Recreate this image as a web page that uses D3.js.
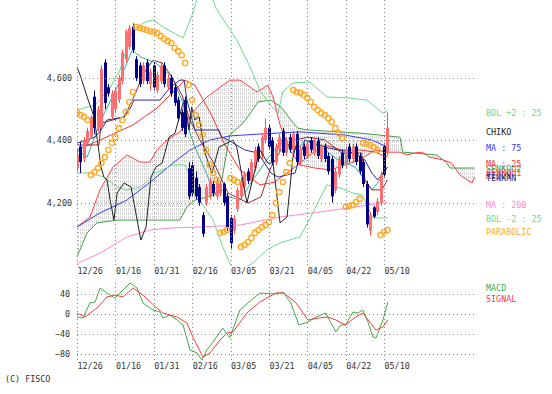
<!DOCTYPE html>
<html>
<head>
<meta charset="utf-8">
<style>
    body { margin: 0; background: #fff; }
    svg text { font-family: 'DejaVu Sans Mono', monospace; font-size: 8.4px; }
</style>
</head>
<body>
<svg width="552" height="394"></svg>
<script src="https://cdn.jsdelivr.net/npm/d3@7"></script>
<script>
    // day index of each date label (11 trading days apart)
    var dateIdx = [0, 11, 22, 33, 44, 55, 66, 77, 88];
    var dateLabels = ["12/26", "01/16", "01/31", "02/16", "03/05", "03/21", "04/05", "04/22", "05/10"];
    var priceTicks = [4200, 4400, 4600];
    var macdTicks = [40, 0, -40, -80];

    // daily candles, index 0 = 12/26
    var opens = [4310,4380,4340,4390,4410,4540,4440,4440,4650,4570,4475,4500,4530,4590,4660,4700,4765,4660,4640,4590,
                 4650,4580,4640,4560,4590,4640,4570,4600,4570,4530,4490,4530,4310,4320,4280,4250,4160,4200,4220,4260,
                 4220,4230,4260,4220,4150,4110,4180,4220,4250,4300,4270,4310,4380,4350,4400,4440,4400,4330,4370,4430,
                 4360,4410,4370,4420,4330,4380,4350,4400,4360,4400,4340,4380,4350,4340,4240,4290,4360,4320,4380,4340,
                 4380,4350,4330,4260,4110,4185,4170,4200,4380,4360];
    var highs = [4370,4395,4410,4440,4480,4560,4510,4640,4660,4580,4560,4570,4610,4690,4755,4770,4775,4670,4650,4650,
                 4660,4630,4650,4620,4650,4650,4610,4610,4580,4540,4500,4540,4330,4330,4300,4260,4170,4260,4280,4270,
                 4280,4270,4265,4230,4160,4160,4250,4280,4300,4310,4340,4380,4390,4420,4470,4450,4410,4390,4420,4440,
                 4410,4420,4430,4430,4380,4390,4400,4410,4410,4410,4390,4390,4360,4350,4310,4350,4370,4380,4390,4390,
                 4390,4360,4340,4270,4170,4190,4215,4300,4390,4490];
    var lows = [4300,4295,4330,4385,4405,4420,4430,4430,4500,4540,4470,4490,4520,4580,4650,4690,4680,4590,4570,4580,
                4580,4560,4560,4550,4580,4570,4560,4540,4510,4460,4430,4410,4210,4220,4210,4190,4090,4190,4210,4220,
                4210,4220,4190,4110,4050,4100,4170,4210,4240,4260,4260,4300,4330,4340,4390,4370,4320,4320,4360,4350,
                4350,4360,4360,4320,4320,4340,4340,4360,4350,4340,4330,4330,4290,4200,4230,4280,4310,4310,4330,4330,
                4320,4290,4250,4120,4095,4150,4160,4190,4280,4350];
    var closes = [4355,4330,4400,4430,4475,4440,4500,4630,4520,4550,4550,4560,4600,4680,4750,4760,4690,4600,4580,4640,
                  4590,4620,4570,4610,4640,4580,4600,4550,4520,4470,4440,4420,4220,4230,4220,4200,4100,4250,4270,4230,
                  4270,4260,4200,4120,4070,4150,4240,4270,4290,4270,4330,4370,4340,4410,4440,4380,4330,4380,4410,4360,
                  4400,4370,4420,4330,4370,4350,4390,4370,4400,4350,4380,4340,4300,4220,4300,4340,4320,4370,4340,4380,
                  4330,4300,4260,4130,4160,4155,4205,4290,4290,4440];

    // indicator lines: [day index, value]
    var bolUp = [[0,4497],[5.2,4513],[9.5,4568],[12.3,4625],[16,4754],[19.5,4779],[21.8,4786],[25.2,4760],[30.4,4728],
                 [33,4802],[35.2,4882],[38.1,4882],[39.8,4824],[45.8,4722],[49.6,4635],[52.4,4561],[55.9,4507],[57.6,4487],
                 [59,4555],[61.9,4584],[66.8,4587],[71.6,4539],[77.4,4536],[83.1,4529],[87.7,4487],[89,4497]];
    var bolDn = [[0,4295],[3.7,4295],[7.7,4282],[11.5,4250],[14.3,4241],[18.3,4250],[22.6,4295],[27.5,4321],[30.9,4321],
                 [32.4,4289],[33.8,4224],[35.2,4208],[39,4144],[41.8,4058],[44.4,3990],[46.7,3984],[50.4,4006],[54.4,4048],
                 [58.2,4071],[63.9,4090],[67.6,4167],[71.6,4257],[75.4,4247],[79.1,4231],[81.9,4224],[84.8,4151],[89,4151]];
    var ma25 = [[0,4369],[6.6,4401],[16,4449],[22.9,4503],[28.1,4561],[30.9,4593],[33.8,4577],[38.7,4478],[42.4,4385],
                [46.7,4305],[52.4,4257],[56.7,4266],[62.5,4314],[66.8,4353],[71.1,4385],[75.9,4369],[81.1,4369],[85.4,4362],[89,4346]];
    var ma75 = [[0,4122],[6.6,4167],[14.3,4208],[21.8,4273],[27.5,4327],[32.4,4369],[38.1,4401],[43.8,4414],[52.4,4420],
                [63.9,4427],[76.8,4417],[84.5,4401],[89,4378]];
    var ma200 = [[0,4005],[6.6,4038],[14.3,4090],[20.9,4112],[27.5,4119],[35.2,4122],[46.7,4128],[58.2,4154],[69.6,4170],
                 [83.1,4192],[89,4202]];
    var tenkan = [[0,4369],[2.9,4346],[6.9,4465],[11.5,4571],[15.8,4689],[18.3,4667],[22.6,4648],[27.2,4603],[30.1,4529],
                  [32.1,4433],[33.8,4378],[36.7,4305],[38.7,4250],[41.5,4241],[43.8,4218],[46.7,4208],[50.4,4273],[54.4,4337],
                  [58.2,4391],[63,4369],[65.3,4401],[71.1,4369],[74.8,4337],[79.7,4314],[82.5,4273],[84.5,4241],[86.2,4263],[89,4314]];
    var kijun = [[0,4385],[6.3,4385],[6.9,4455],[13.5,4475],[16.3,4539],[19.2,4616],[21.8,4657],[24.4,4648],[27.2,4603],
                 [30.1,4545],[32.4,4465],[35.2,4401],[39.5,4321],[43.3,4231],[49,4199],[52.7,4218],[55.6,4314],[58.5,4369],
                 [62.5,4401],[66.2,4410],[71.1,4401],[75.9,4359],[81.6,4359],[82.5,4273],[84.5,4241],[87.4,4241],[89,4273]];
    var baseLine = [[0,4391],[5.2,4410],[6.9,4433],[8.6,4465],[13.5,4475],[15.5,4507],[16.3,4529],[23.8,4529],[26.6,4568],
                    [29.5,4593],[30.7,4593],[31.5,4529],[33.8,4433],[40.7,4433],[41.5,4410],[43.3,4401],[48.1,4369],[51.9,4359],
                    [55.6,4295],[57.6,4282],[62.5,4295],[65.3,4401],[71.1,4378],[74.8,4369],[79.7,4359],[82.5,4337],[84.5,4295],
                    [86.2,4273],[89,4314]];
    var senkou1 = [[0,4122],[3.7,4154],[6.6,4241],[10.3,4314],[14.3,4353],[18.1,4330],[20.9,4330],[22.9,4369],[25.8,4401],
                   [29.5,4427],[33.2,4491],[37.2,4539],[43.8,4593],[46.7,4593],[49.6,4571],[51.6,4555],[54.7,4577],[56.2,4539],
                   [58.2,4449],[61,4369],[63.9,4321],[68.2,4311],[72.5,4305],[76.8,4321],[81.1,4337],[85.4,4369],[88.8,4362],
                   [92.6,4362],[94.6,4353],[96.8,4359],[98.9,4362],[101.1,4346],[104.9,4337],[107.4,4327],[109.7,4289],
                   [113.2,4263],[114,4282]];
    var senkou2 = [[0,4026],[2.9,4103],[5.7,4135],[11.5,4144],[29.5,4144],[31.5,4186],[33.8,4208],[39.5,4224],[41.5,4273],
                   [43.8,4417],[47,4449],[49,4475],[51.9,4523],[55.6,4529],[58.5,4507],[61.3,4465],[63.3,4439],[66.2,4433],
                   [81.1,4423],[92.6,4410],[93.4,4362],[103.2,4353],[106,4327],[106.9,4311],[114,4311]];
    var chiko = [[0,4635],[1.1,4603],[2.9,4539],[4.9,4475],[6.9,4314],[7.7,4282],[8.6,4273],[9.5,4208],[10.6,4144],
                 [11.5,4231],[13.5,4263],[15.5,4250],[18.3,4080],[19.8,4122],[21.2,4282],[22.6,4314],[24.4,4327],[26.4,4410],
                 [28.1,4423],[30.1,4507],[30.9,4529],[32.1,4433],[32.9,4507],[33.8,4465],[35,4475],[36.7,4359],[38.7,4295],
                 [40.7,4378],[43,4391],[44.7,4401],[45.8,4378],[48.7,4199],[50.1,4263],[52.4,4369],[54.7,4327],[56.2,4327],
                 [58.2,4135],[60.2,4154],[61.9,4346],[63,4391]];
    // parabolic SAR, one per day
    var sar = [4487,4481,4475,4465,4289,4298,4311,4327,4346,4369,4391,4410,4439,4465,4491,4523,4555,4763,4760,4757,
               4754,4750,4747,4744,4734,4725,4718,4712,4696,4686,4673,4648,4577,4529,4481,4449,4417,4369,4321,4295,
               4273,4103,4106,4112,4279,4273,4266,4058,4064,4074,4087,4103,4112,4122,4128,4138,4160,4199,4234,4266,
               4298,4327,4561,4555,4552,4545,4536,4523,4507,4497,4487,4481,4471,4459,4439,4423,4407,4186,4189,4192,
               4202,4212,4391,4388,4385,4378,4369,4096,4106,4112];
    var macd = [[0,-6],[1.7,-8],[3.7,22],[5.2,24],[6.6,52],[8.6,42],[10.9,32],[13.2,48],[15.2,62],[17.2,52],[18.9,22],
                [21.8,8],[23.8,4],[24.6,-8],[26.6,-2],[28.7,-12],[30.4,-22],[32.4,-72],[34.4,-78],[35.8,-92],[37.2,-72],
                [39,-56],[41.8,-28],[43.8,-48],[46.7,8],[49,22],[52.4,42],[57,40],[59,44],[61.3,22],[63.6,-22],[66.2,-16],
                [68.5,-6],[71.3,2],[74.2,-36],[75.6,-22],[77,-22],[79.1,4],[80.5,2],[81.9,8],[83.4,-16],[84.8,-46],
                [85.7,-48],[87.7,-12],[89.1,24]];
    var signal = [[0,2],[2.3,-6],[5.7,12],[8.6,34],[10.9,38],[13.2,34],[16,52],[18.9,38],[22.9,12],[24.6,2],[28.7,-6],
                  [31.5,-18],[33.2,-46],[36.1,-86],[38.1,-78],[41,-52],[43,-38],[44.7,-36],[48.7,2],[52.4,24],[57,42],
                  [59.3,42],[62.8,22],[66.2,-12],[69.3,-8],[71.9,-6],[74.2,-12],[77,-22],[79.4,-8],[81.9,2],[85.7,-32],
                  [87.7,-26],[89.1,-12]];

    var svg = d3.select("svg");
    var x = d3.scaleLinear().domain([0, 88]).range([77, 384]);
    var y = d3.scaleLinear().domain([4000, 4850]).range([265, 0]);
    var ym = d3.scaleLinear().domain([-80, 40]).range([354, 294]);
    var left = 77, right = 477;

    var defs = svg.append("defs");
    defs.append("clipPath").attr("id", "clipMain").append("rect")
        .attr("x", left).attr("y", 0).attr("width", right - left + 2).attr("height", 266);
    defs.append("clipPath").attr("id", "clipMacd").append("rect")
        .attr("x", left).attr("y", 282).attr("width", right - left + 2).attr("height", 80);
    // vertical-line hatch for the cloud
    var pat = defs.append("pattern").attr("id", "hatch").attr("patternUnits", "userSpaceOnUse")
        .attr("width", 2).attr("height", 4);
    pat.append("rect").attr("width", 1).attr("height", 3).attr("fill", "#d6d6d6");

    var main = svg.append("g").attr("clip-path", "url(#clipMain)");
    var lower = svg.append("g").attr("clip-path", "url(#clipMacd)");

    var line = d3.line().x(function (d) { return x(d[0]); }).y(function (d) { return y(d[1]); });
    var mline = d3.line().x(function (d) { return x(d[0]); }).y(function (d) { return ym(d[1]); });

    // cloud between the two senkou spans
    main.append("path")
        .attr("d", line(senkou1.concat(senkou2.slice().reverse())) + "Z")
        .attr("fill", "url(#hatch)");

    // grid
    function dotted(g, x1, y1, x2, y2) {
        g.append("line").attr("x1", x1).attr("y1", y1).attr("x2", x2).attr("y2", y2)
            .attr("stroke", "#888").attr("stroke-width", 1).attr("stroke-dasharray", "1,3");
    }
    dateIdx.forEach(function (d) {
        dotted(svg, Math.round(x(d)) + 0.5, 0, Math.round(x(d)) + 0.5, 266);
        dotted(svg, Math.round(x(d)) + 0.5, 283, Math.round(x(d)) + 0.5, 362);
    });
    priceTicks.forEach(function (p) { dotted(svg, left, Math.round(y(p)) + 0.5, right, Math.round(y(p)) + 0.5); });
    macdTicks.forEach(function (v) { dotted(svg, left, Math.round(ym(v)) + 0.5, right, Math.round(ym(v)) + 0.5); });

    function drawLine(data, color, w) {
        main.append("path").attr("d", line(data)).attr("fill", "none")
            .attr("stroke", color).attr("stroke-width", w || 1);
    }
    drawLine(senkou2, "#44a044");
    drawLine(senkou1, "#ff4040");
    drawLine(ma200, "#ff88cc");
    drawLine(ma75, "#3a3aff");
    drawLine(bolUp, "#66dd88");
    drawLine(bolDn, "#66dd88");
    drawLine(ma25, "#ff3030");
    drawLine(tenkan, "#33aaaa");
    drawLine(kijun, "#992a2a");
    drawLine(baseLine, "#2a2a99");

    // candles
    var days = d3.range(closes.length);
    var cw = 3;
    main.selectAll(".wick").data(days).enter().append("line")
        .attr("x1", function (i) { return Math.round(x(i)) + 0.5; })
        .attr("x2", function (i) { return Math.round(x(i)) + 0.5; })
        .attr("y1", function (i) { return y(highs[i]); })
        .attr("y2", function (i) { return y(lows[i]); })
        .attr("stroke", function (i) { return closes[i] >= opens[i] ? "#ff4a4a" : "#000088"; });
    main.selectAll(".body").data(days).enter().append("rect")
        .attr("x", function (i) { return Math.round(x(i)) - 1; })
        .attr("width", cw)
        .attr("y", function (i) { return y(Math.max(opens[i], closes[i])); })
        .attr("height", function (i) { return Math.max(1, Math.abs(y(opens[i]) - y(closes[i]))); })
        .attr("fill", function (i) { return closes[i] >= opens[i] ? "#ff7070" : "#000088"; });

    drawLine(chiko, "#222");

    main.selectAll(".sar").data(sar).enter().append("circle")
        .attr("cx", function (d, i) { return x(i); })
        .attr("cy", function (d) { return y(d); })
        .attr("r", 2.6).attr("fill", "none").attr("stroke", "#ffaa22").attr("stroke-width", 1.4);

    // MACD panel
    lower.append("path").attr("d", mline(macd)).attr("fill", "none").attr("stroke", "#44aa44");
    lower.append("path").attr("d", mline(signal)).attr("fill", "none").attr("stroke", "#ff3b3b");

    // axes
    svg.append("g").attr("transform", "translate(" + left + ",0)")
        .call(d3.axisLeft(y).tickValues(priceTicks).tickFormat(d3.format(",")).tickSize(0).tickPadding(5));
    svg.append("g").attr("transform", "translate(" + left + ",0)")
        .call(d3.axisLeft(ym).tickValues(macdTicks).tickSize(0).tickPadding(7));
    [265, 360].forEach(function (ty) {
        svg.append("g").attr("transform", "translate(0," + ty + ")")
            .call(d3.axisBottom(x).tickValues(dateIdx).tickFormat(function (d, i) { return dateLabels[i]; }).tickSize(0).tickPadding(3))
            .selectAll("text").attr("text-anchor", "start");
    });
    svg.selectAll(".domain").remove();
    svg.selectAll(".tick text").attr("fill", "#333").style("font-family", "'DejaVu Sans Mono', monospace").style("font-size", "8.4px");

    // legend (the ichimoku entries overlap in the original too)
    var legend = [
        ["BOL +2 : 25", "#66dd88", 113], ["CHIKO", "#222", 132], ["MA : 75", "#3a3aff", 148],
        ["MA : 25", "#ff3030", 164], ["SENKOU2", "#44a044", 169], ["SENKOU1", "#ff4040", 173],
        ["KIJUN", "#992a2a", 176], ["TENKAN", "#2a2a99", 178],
        ["MA : 200", "#ff88cc", 205], ["BOL -2 : 25", "#66dd88", 219], ["PARABOLIC", "#ffaa22", 232],
        ["MACD", "#44aa44", 288], ["SIGNAL", "#ff3b3b", 299]
    ];
    svg.selectAll(".leg").data(legend).enter().append("text")
        .attr("x", 486).attr("y", function (d) { return d[2]; }).attr("dy", "0.35em")
        .attr("fill", function (d) { return d[1]; }).text(function (d) { return d[0]; });

    svg.append("text").attr("x", 5).attr("y", 379).attr("dy", "0.35em").attr("fill", "#333").text("(C) FISCO");
</script>
</body>
</html>
